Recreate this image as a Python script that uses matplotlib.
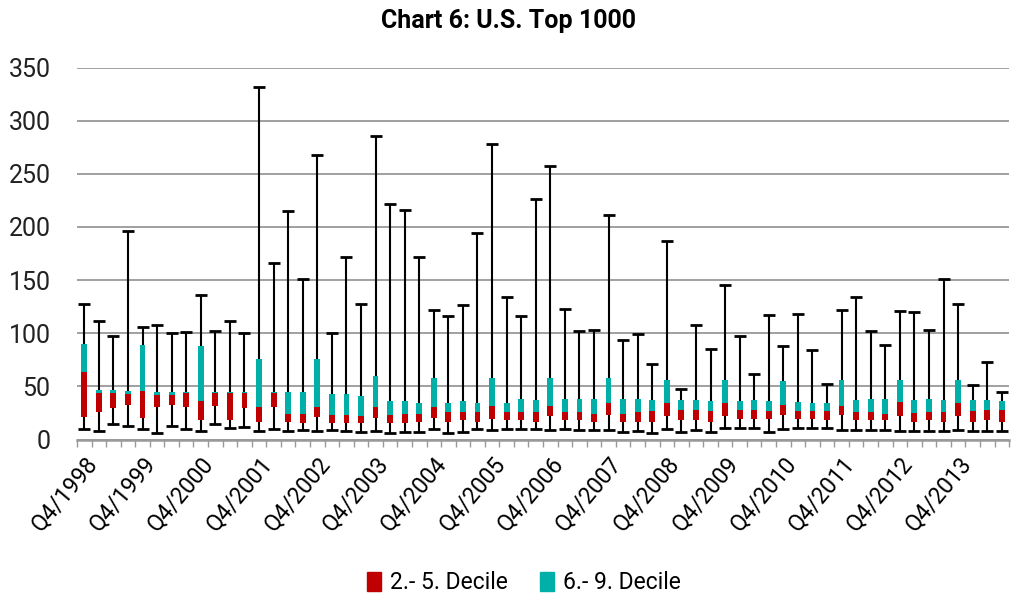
import matplotlib
matplotlib.use("Agg")
import matplotlib.pyplot as plt
from matplotlib.patches import Patch
import numpy as np

plt.rcParams["font.family"] = ["Roboto", "DejaVu Sans"]

# quarters Q4/1998 .. Q3/2014
quarters = []
for i in range(64):
    q = (3 + i) % 4 + 1
    y = 1998 + (3 + i) // 4
    quarters.append(f"Q{q}/{y}")

# whisker top / teal top / red top / red bottom / whisker bottom
whisker_hi = [128, 112, 97, 196, 106, 108, 100, 101, 136, 102, 112, 100,
              332, 166, 215, 151, 268, 100, 172, 128, 286, 222, 216, 172,
              122, 116, 127, 194, 278, 134, 116, 226, 257, 123, 102, 103,
              211, 94, 99, 71, 187, 48, 108, 85, 145, 97, 62, 117,
              88, 118, 84, 52, 122, 134, 102, 89, 121, 120, 103, 151,
              128, 51, 73, 45]
teal_hi = [90, 46.5, 46.5, 45.5, 89, 44.5, 44.5, 44.5, 88, 44.5, 44.5, 44.5,
           76, 44.5, 44.5, 44.5, 76, 43, 43, 41, 60, 36, 36, 34.5,
           58, 34.5, 36, 34.5, 58, 34.5, 38, 37, 58, 38, 38, 38,
           58, 38, 38, 37, 56.5, 37, 37, 36, 56, 36.5, 37, 36,
           55, 35, 34.5, 34.5, 56.5, 37, 38, 38, 56.5, 37, 38, 37,
           56, 37, 37, 36]
red_hi = [64, 44, 44, 43, 46, 42, 42, 44, 36.5, 44, 44, 44,
          31, 44, 24.5, 24.5, 30.5, 23, 23, 22, 30.5, 23, 24.5, 24.5,
          31, 26, 26, 26, 32, 26, 26, 26, 32, 26, 26, 24.5,
          34.5, 24.5, 26, 27, 34.5, 27.5, 27.5, 27, 34.5, 27.5, 27.5, 27,
          33, 27, 27, 27, 32, 26, 26, 24.5, 35.5, 25, 26, 26,
          34.5, 27, 27.5, 27.5]
red_lo = [21, 26, 30, 33, 20, 31, 33, 31, 18, 32, 18, 30,
          17, 31, 17, 16, 21, 16, 16, 16, 20, 16, 16, 17,
          20, 17, 18, 17, 19, 18, 18, 17, 22, 18, 18, 17,
          23, 17, 17, 17, 22, 18, 18, 17, 22, 19, 19, 19,
          23, 19, 19, 18, 23, 18, 18, 18, 22, 17, 18, 17,
          22, 17, 18, 17]
whisker_lo = [10, 8, 15, 13, 10, 6, 13, 10, 8, 15, 11, 12,
              8, 10, 8, 9, 8, 9, 8, 7, 8, 6, 7, 7,
              10, 6, 7, 10, 9, 10, 10, 10, 9, 10, 9, 9,
              9, 7, 8, 6, 10, 7, 9, 7, 11, 11, 11, 7,
              10, 11, 11, 11, 9, 9, 9, 9, 8, 8, 8, 8,
              9, 8, 8, 8]

RED = "#C00000"
TEAL = "#00B0A8"

x = np.arange(len(quarters))
whisker_hi = np.array(whisker_hi)
whisker_lo = np.array(whisker_lo)
teal_hi = np.array(teal_hi)
red_hi = np.array(red_hi)
red_lo = np.array(red_lo)

fig = plt.figure(figsize=(10.17, 6.03), dpi=100)
ax = fig.add_axes([0.0757, 0.271, 0.9165, 0.617])

# whiskers
mid = (whisker_hi + whisker_lo) / 2
ax.errorbar(x, mid, yerr=[mid - whisker_lo, whisker_hi - mid], fmt="none",
            ecolor="black", elinewidth=1.5, capsize=4, capthick=2, zorder=2)

# stacked boxes
ax.bar(x, red_hi - red_lo, bottom=red_lo, width=0.4, color=RED, zorder=3)
ax.bar(x, teal_hi - red_hi, bottom=red_hi, width=0.4, color=TEAL, zorder=3)

ax.set_xlim(-0.5, len(x) - 0.5)
ax.set_ylim(0, 350)
ax.set_yticks(range(0, 351, 50))
ax.grid(axis="y", color="#999999", linewidth=1.3, zorder=0)
ax.set_axisbelow(True)

for s in ["left", "right", "top"]:
    ax.spines[s].set_visible(False)
ax.spines["bottom"].set_color("#999999")
ax.spines["bottom"].set_linewidth(1.8)

ax.set_xticks(x[::4])
ax.set_xticklabels([q for q in quarters[::4]], rotation=50, ha="right",
                   rotation_mode="anchor", fontsize=16.5)
ax.tick_params(axis="x", length=0, pad=9)
ax.set_xticks(np.arange(-0.5, len(x), 1), minor=True)
ax.tick_params(axis="x", which="minor", length=5, color="#999999", width=1)
ax.tick_params(axis="y", length=0, labelsize=18, pad=19)
for lbl in ax.get_yticklabels():
    lbl.set_color("#222222")

fig.suptitle("Chart 6: U.S. Top 1000", fontsize=18, fontweight="bold", y=0.985)

handles = [Patch(color=RED, label="2.- 5. Decile"),
           Patch(color=TEAL, label="6.- 9. Decile")]
fig.legend(handles=handles, loc="lower center", ncol=2, frameon=False,
           fontsize=16.5, bbox_to_anchor=(0.515, -0.02), handlelength=0.6,
           handleheight=0.9, handletextpad=0.4, columnspacing=1.4)

fig.savefig("out.png", dpi=100)
